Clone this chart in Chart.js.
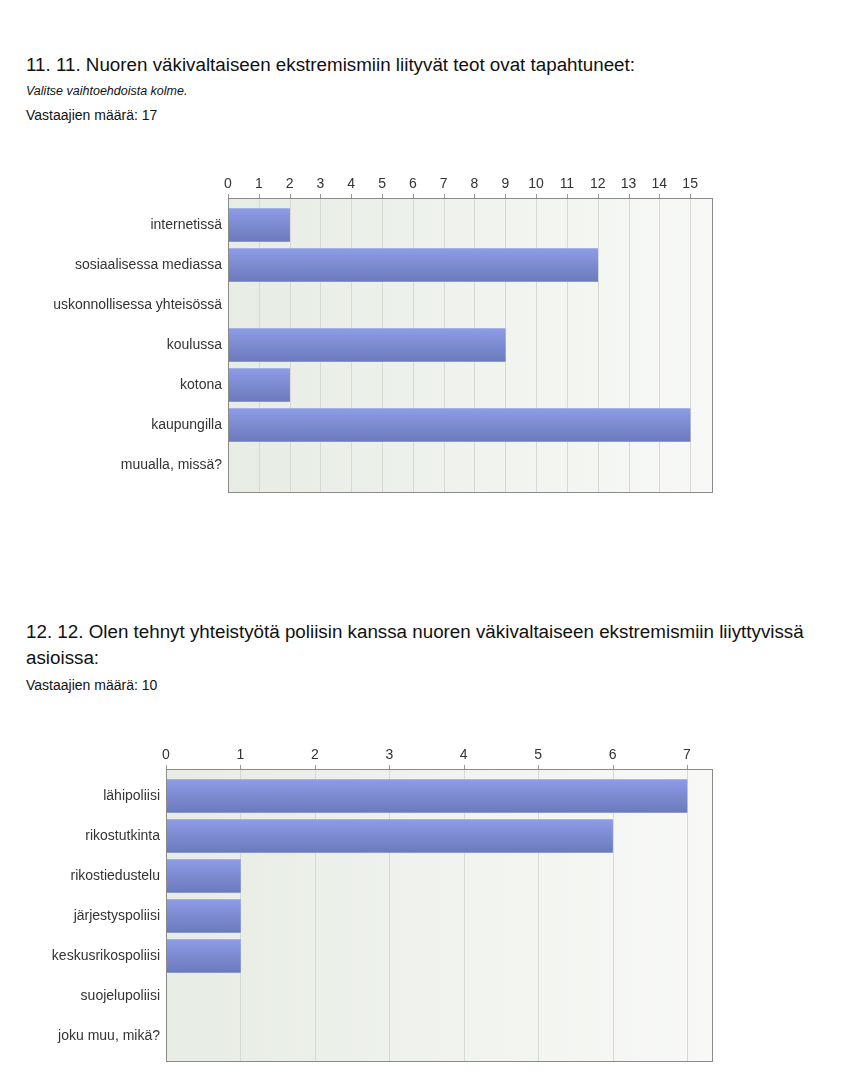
<!DOCTYPE html>
<html>
<head>
<meta charset="utf-8">
<script src="https://cdn.jsdelivr.net/npm/chart.js@4/dist/chart.umd.min.js"></script>
<style>
  body { margin: 0; background: #fff; font-family: "Liberation Sans", Arial, sans-serif; color: #111; }
  .page { position: relative; width: 846px; height: 1090px; }
  .t { position: absolute; left: 26px; white-space: nowrap; }
  .h { font-size: 18.8px; line-height: 26px; }
  .i { font-size: 12.5px; font-style: italic; }
  .n { font-size: 14px; }
  canvas { position: absolute; left: 0; }
</style>
</head>
<body>
<div class="page">
  <div class="t h" style="top:52px">11. 11. Nuoren väkivaltaiseen ekstremismiin liityvät teot ovat tapahtuneet:</div>
  <div class="t i" style="top:84px">Valitse vaihtoehdoista kolme.</div>
  <div class="t n" style="top:107px">Vastaajien määrä: 17</div>
  <canvas id="chart1" width="740" height="330" style="top:170px;width:740px;height:330px"></canvas>

  <div class="t h" style="top:619px">12. 12. Olen tehnyt yhteistyötä poliisin kanssa nuoren väkivaltaiseen ekstremismiin liiyttyvissä<br>asioissa:</div>
  <div class="t n" style="top:677px">Vastaajien määrä: 10</div>
  <canvas id="chart2" width="740" height="340" style="top:740px;width:740px;height:340px"></canvas>
</div>
<script>
// Q11
const labels1 = ['internetissä', 'sosiaalisessa mediassa', 'uskonnollisessa yhteisössä', 'koulussa', 'kotona', 'kaupungilla', 'muualla, missä?'];
const values1 = [2, 12, 0, 9, 2, 15, 0];
const max1 = 15.71;

// Q12
const labels2 = ['lähipoliisi', 'rikostutkinta', 'rikostiedustelu', 'järjestyspoliisi', 'keskusrikospoliisi', 'suojelupoliisi', 'joku muu, mikä?'];
const values2 = [7, 6, 1, 1, 1, 0, 0];
const max2 = 7.336;

const BAR_H = 33;

function barFill(ctx) {
  const chart = ctx.chart;
  const y = chart.scales.y;
  if (!chart.chartArea || !y) return '#7b8bd2';
  const c = y.getPixelForValue(ctx.dataIndex);
  const g = chart.ctx.createLinearGradient(0, c - BAR_H / 2, 0, c + BAR_H / 2);
  g.addColorStop(0, '#8c9ce6');
  g.addColorStop(1, '#6b7abc');
  return g;
}

// background, grid, tick marks and border of the plot box
const framePlugin = {
  id: 'frame',
  beforeDatasetsDraw(chart, args, opts) {
    const a = chart.chartArea, ctx = chart.ctx, x = chart.scales.x;
    const top = a.top - opts.padTop, bottom = a.bottom + opts.padBottom;
    const bg = ctx.createLinearGradient(a.left, 0, a.right, 0);
    bg.addColorStop(0, '#e7ece4');
    bg.addColorStop(1, '#f8f9f7');
    ctx.save();
    ctx.fillStyle = bg;
    ctx.fillRect(a.left, top, a.right - a.left, bottom - top);
    ctx.lineWidth = 1;
    x.ticks.forEach(t => {
      const px = Math.round(x.getPixelForValue(t.value)) + 0.5;
      ctx.strokeStyle = '#d6dad6';
      ctx.beginPath();
      ctx.moveTo(px, top);
      ctx.lineTo(px, bottom);
      ctx.stroke();
      ctx.strokeStyle = '#999';
      ctx.beginPath();
      ctx.moveTo(px, top - 4);
      ctx.lineTo(px, top);
      ctx.stroke();
    });
    ctx.restore();
  },
  afterDatasetsDraw(chart, args, opts) {
    const a = chart.chartArea, ctx = chart.ctx;
    const top = a.top - opts.padTop, bottom = a.bottom + opts.padBottom;
    ctx.save();
    ctx.strokeStyle = '#8a8a8a';
    ctx.lineWidth = 1;
    ctx.strokeRect(Math.round(a.left) + 0.5, Math.round(top) + 0.5, Math.round(a.right - a.left), Math.round(bottom - top));
    ctx.restore();
  }
};

function makeChart(id, labels, values, max, yWidth, xHeight, padBottom, padTop, padBot) {
  return new Chart(document.getElementById(id), {
    type: 'bar',
    data: {
      labels: labels,
      datasets: [{
        data: values,
        backgroundColor: barFill,
        borderWidth: 0,
        barThickness: BAR_H
      }]
    },
    options: {
      responsive: false,
      animation: false,
      indexAxis: 'y',
      layout: { padding: { left: 0, right: 28, top: 0, bottom: padBottom } },
      plugins: {
        legend: { display: false },
        tooltip: { enabled: false },
        frame: { padTop: padTop, padBottom: padBot }
      },
      scales: {
        x: {
          position: 'top',
          min: 0,
          max: max,
          afterFit: s => { s.height = xHeight; },
          grid: { display: false, drawTicks: false },
          border: { display: false },
          ticks: {
            stepSize: 1,
            includeBounds: false,
            padding: 12,
            color: '#333',
            font: { family: 'Liberation Sans', size: 14 }
          }
        },
        y: {
          afterFit: s => { s.width = yWidth; },
          grid: { display: false, drawTicks: false },
          border: { display: false },
          ticks: {
            padding: 6,
            color: '#333',
            font: { family: 'Liberation Sans', size: 14 }
          }
        }
      }
    },
    plugins: [framePlugin]
  });
}

makeChart('chart1', labels1, values1, max1, 228, 35, 15, 7, 7);
makeChart('chart2', labels2, values2, max2, 166, 36, 24, 7, 5);
</script>
</body>
</html>
